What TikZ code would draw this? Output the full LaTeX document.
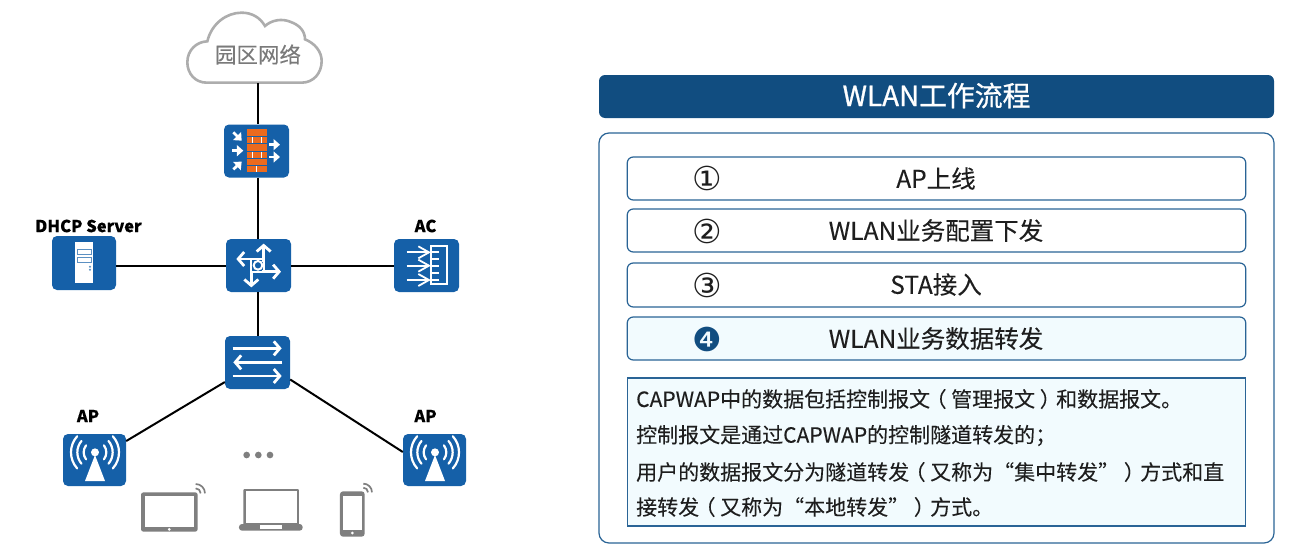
\documentclass[tikz,border=0pt]{standalone}
\usepackage{fontspec}
\setmainfont[FakeBold=0.12]{Noto Sans CJK SC}
\newfontfamily\titlefont[FakeBold=0.9]{Noto Sans CJK SC}
\newfontfamily\symfont{DejaVu Sans}
\newcommand{\lp}{\hspace{-0.22em}（\hspace{0.22em}}
\newcommand{\rp}{\hspace{0.22em}）\hspace{-0.22em}}
\usetikzlibrary{arrows.meta}
\definecolor{navy}{HTML}{114D80}
\definecolor{edge}{HTML}{2A6496}
\definecolor{icon}{HTML}{1560A8}
\definecolor{brick}{HTML}{EB6A1E}
\definecolor{pale}{HTML}{F2FBFE}
\definecolor{ink}{HTML}{1E1E1E}
\definecolor{devgrey}{HTML}{7F7F7F}
\tikzset{
  iconbox/.style={fill=icon,rounded corners=5pt,minimum width=#1,minimum height=53pt,inner sep=0pt,draw=none},
  link/.style={line width=2pt,black},
  warrow/.style={white,line width=2.8pt,-{Straight Barb[length=6pt,width=14pt,line width=2.8pt]}},
  farrow/.style={white,line width=2.8pt,-{Triangle[length=6.5pt,width=11pt]}},
  itembox/.style={draw=edge,line width=1.2pt,rounded corners=6pt,minimum width=618.5pt,minimum height=43pt,inner sep=0pt,fill=white},
  itemtext/.style={text=ink,font=\fontsize{24.5}{24.5}\selectfont,inner sep=0pt},
  numtext/.style={text=ink,font=\symfont\fontsize{33}{33}\selectfont,inner sep=0pt},
  lbl/.style={text=black,font=\fontsize{16.5}{16.5}\selectfont\bfseries,inner sep=0pt},
  bodytext/.style={text=ink,font=\fontsize{21}{21}\selectfont,inner sep=0pt,anchor=west},
  devfill/.style={fill=devgrey,draw=none},
  wifi/.style={devgrey,line width=1.7pt},
}
\begin{document}
\begin{tikzpicture}[x=1pt,y=-1pt]
\useasboundingbox (0,0) rectangle (1296,557);
\fill[white] (0,0) rectangle (1296,557);
\coordinate (cloudb) at (258,83);
\node[iconbox=65pt] (fw) at (256.5,151) {};
\node[iconbox=65pt] (rt) at (258.5,265.5) {};
\node[iconbox=65pt] (sw) at (257.5,362.5) {};
\node[iconbox=64pt,minimum height=54pt] (dhcp) at (84,263) {};
\node[iconbox=65pt] (ac) at (426.5,265.5) {};
\node[iconbox=63pt,minimum height=52pt] (apl) at (94.5,460) {};
\node[iconbox=63pt,minimum height=52pt] (apr) at (434.5,460) {};
% cloud
\begin{scope}[shift={(170,0)},scale=1/3]
\draw[line width=2.6pt,draw=black!32,fill=white]
  (110,248) .. controls (75,248) and (52,220) .. (52,187)
  .. controls (52,150) and (80,125) .. (112,124)
  .. controls (125,70) and (170,38) .. (215,38)
  .. controls (245,38) and (270,52) .. (285,78)
  .. controls (305,60) and (335,55) .. (360,65)
  .. controls (390,75) and (405,95) .. (405,118)
  .. controls (435,130) and (455,155) .. (455,183)
  .. controls (455,220) and (430,248) .. (395,248) -- cycle;
\end{scope}
\node[text=black!52,font=\fontsize{21.5}{21.5}\selectfont,inner sep=0pt] (cloudt) at (258,54.5) {园区网络};
\draw[link] (cloudb) -- (cloudb |- fw.north);
\draw[link] (cloudb |- fw.south) -- (cloudb |- rt.north);
\draw[link] (dhcp.east |- rt.west) -- (rt.west);
\draw[link] (rt.east) -- (ac.west);
\draw[link] (cloudb |- rt.south) -- (cloudb |- sw.north);
\draw[link] (sw) -- (apl);
\draw[link] ([yshift=-17pt]sw.east) -- ([yshift=8pt]apr.west);
% labels
\node[lbl] (l1) at (88.5,226) {DHCP Server};
\node[lbl] (l2) at (425.5,226) {AC};
\node[lbl] (l3) at (88,416) {AP};
\node[lbl] (l4) at (425.5,416) {AP};
% firewall glyph
\begin{scope}[shift={(170,0)},scale=1/3]
\foreach \a/\b in {388/408,411/429,432/452,455/473,476/496,498/517}
  \fill[brick] (230,\a) rectangle (290,\b);
\foreach \a/\b/\c in {411/429/246,411/429/274,455/473/246,455/473/274,498/517/260}
  \draw[white,line width=0.9pt] (\c,\a) -- (\c,\b);
\draw[farrow] (190,397) -- (215,422);
\draw[farrow] (187,452) -- (220,452);
\draw[farrow] (190,508) -- (215,485);
\draw[farrow] (298,434) -- (330,434);
\draw[farrow] (298,471) -- (330,471);
\end{scope}
% router glyph
\begin{scope}[shift={(30,205)},scale=1/3]
\draw[white,line width=2pt] (664,162) -- (701,162) (664,162) -- (664,200) -- (701,200) -- (701,162);
\draw[warrow] (672,162) -- (619,162);
\draw[warrow] (701,170) -- (701,116);
\draw[warrow] (695,200) -- (753,200);
\draw[warrow] (664,197) -- (664,247);
\draw[white,fill=icon,line width=2pt] (684,181) circle (13);
\end{scope}
% switch glyph
\begin{scope}[shift={(30,205)},scale=1/3]
\draw[warrow] (608,430) -- (755,430);
\draw[warrow] (757,472) -- (610,472);
\draw[warrow] (608,513) -- (755,513);
\end{scope}
% dhcp glyph
\begin{scope}[shift={(30,205)},scale=1/3]
\fill[white] (135,112) rectangle (190,235);
\draw[icon!70,line width=0.9pt,fill=white] (141,132) rectangle (185,148);
\draw[icon!70,line width=0.9pt,fill=white] (141,157) rectangle (185,172);
\fill[icon!70] (180,185) circle (3.5) (180,194) circle (3.5);
\end{scope}
% ac glyph
\begin{scope}[shift={(30,205)},scale=1/3]
\draw[white,line width=2pt] (1203,122) rectangle (1250,238);
\foreach \y in {142,162,182,205,225}
  \draw[white,line width=1.7pt] (1203,\y) -- (1226,\y);
\foreach \y in {142,182,225}{
  \draw[white,line width=2.2pt] (1130,\y) -- (1197,\y);
  \draw[white,line width=1.8pt] (1165,\y-18) -- (1197,\y) -- (1165,\y+18);
}
\end{scope}
% ap glyphs
\foreach \ox in {50,390}{
\begin{scope}[shift={(\ox,400)},scale=1/3]
\fill[white] (135,165) -- (165,243) -- (105,243) -- cycle;
\fill[white] (135,157) circle (12);
\foreach \r/\w in {34/38,53/40,72/42}{
  \draw[white,line width=2.2pt,line cap=round] (135,157) ++(-\w:\r) arc[start angle=-\w,end angle=\w,radius=\r];
  \draw[white,line width=2.2pt,line cap=round] (135,157) ++(180-\w:\r) arc[start angle=180-\w,end angle=180+\w,radius=\r];
}
\end{scope}}
% devices
\begin{scope}[shift={(50,400)},scale=1/3]
\foreach \x in {590,625,660} \fill[devgrey] (\x,165) circle (10);
\fill[devfill,rounded corners=2.5pt] (273,277) rectangle (443,395);
\fill[white] (285,288) rectangle (433,382);
\fill[white] (358,388) circle (4.5);
\draw[wifi] (437,265) arc[start angle=-90,end angle=0,radius=15];
\draw[wifi] (437,252) arc[start angle=-90,end angle=0,radius=28];
\fill[devfill,rounded corners=1pt] (580,267) rectangle (747,376);
\fill[white] (587,274) rectangle (740,368);
\fill[devfill,rounded corners=3pt] (567,372) rectangle (758,392);
\fill[white] (630,376) rectangle (695,386);
\fill[devfill,rounded corners=3pt] (870,274) rectangle (944,410);
\fill[white] (878,288) rectangle (937,390);
\fill[white] (907,399) circle (4.5);
\draw[wifi] (940,263) arc[start angle=-90,end angle=0,radius=14];
\draw[wifi] (940,251) arc[start angle=-90,end angle=0,radius=26];
\end{scope}
% right side
\node[fill=navy,rounded corners=6pt,minimum width=675pt,minimum height=43pt,inner sep=0pt] (hdr) at (936.5,96.5) {};
\node[text=white,font=\titlefont\fontsize{27.8}{27.8}\selectfont,inner sep=0pt] (hdrt) at (936.5,95.5) {WLAN工作流程};
\node[draw=edge,line width=1.2pt,rounded corners=10pt,minimum width=675pt,minimum height=410pt,inner sep=0pt] (panel) at (936.5,338) {};
\node[itembox] (i1) at (936.5,178.5) {};
\node[itembox] (i2) at (936.5,230.5) {};
\node[itembox,minimum height=44pt] (i3) at (936.5,285) {};
\node[itembox,fill=pale] (i4) at (936.5,338.5) {};
\node[numtext] (n1) at (707,178) {①};
\node[numtext] (n2) at (707,231) {②};
\node[numtext] (n3) at (707,285) {③};
\node[numtext,text=navy] (n4) at (707,339) {❹};
\node[itemtext] (t1) at (936,178.5) {AP上线};
\node[itemtext] (t2) at (936,230.5) {WLAN业务配置下发};
\node[itemtext] (t3) at (936,284.5) {STA接入};
\node[itemtext] (t4) at (936,338.5) {WLAN业务数据转发};
\node[draw=edge,line width=1.2pt,fill=pale,minimum width=618.5pt,minimum height=148pt,inner sep=0pt] (box) at (936.5,452) {};
\node[bodytext] (b1) at (636,399) {CAPWAP中的数据包括控制报文\lp 管理报文\rp 和数据报文。};
\node[bodytext] (b2) at (636,435.5) {控制报文是通过CAPWAP的控制隧道转发的；};
\node[bodytext] (b3) at (636,472) {用户的数据报文分为隧道转发\lp 又称为“集中转发”\rp 方式和直};
\node[bodytext] (b4) at (636,507) {接转发\lp 又称为“本地转发”\rp 方式。};
\end{tikzpicture}
\end{document}
